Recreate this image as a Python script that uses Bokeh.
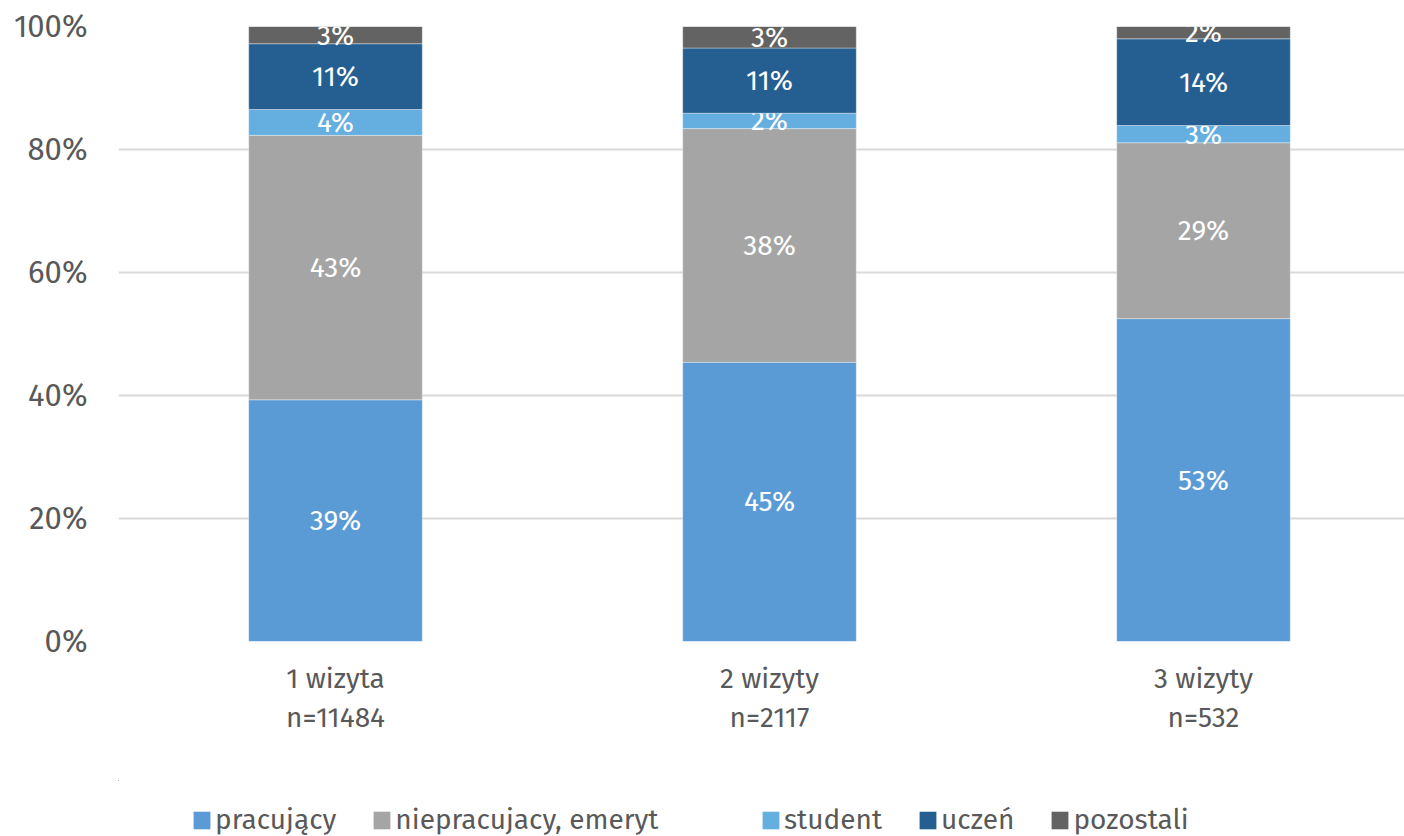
from bokeh.plotting import figure
from bokeh.layouts import column
from bokeh.models import (Range1d, FixedTicker, PrintfTickFormatter, Legend, LegendItem,
                          ColumnDataSource)
from bokeh.core.properties import value
from bokeh.embed import file_html
from bokeh.resources import INLINE

categories = ["1 wizyta\nn=11484", "2 wizyty\nn=2117", "3 wizyty\nn=532"]
series = ["pracujący", "niepracujacy, emeryt", "student", "uczeń", "pozostali"]
pracujacy = [39.3, 45.4, 52.5]
niepracujacy = [43.0, 38.0, 28.6]
student = [4.2, 2.5, 2.8]
uczen = [10.7, 10.6, 14.1]
pozostali = [2.8, 3.5, 2.0]
labels = [["39%", "45%", "53%"], ["43%", "38%", "29%"], ["4%", "2%", "3%"],
          ["11%", "11%", "14%"], ["3%", "3%", "2%"]]
colors = ["#5B9BD5", "#A5A5A5", "#65AEE0", "#255E91", "#636363"]
yticks = [0, 20, 40, 60, 80, 100]

FONT = "Fira Sans, Open Sans"
values = [pracujacy, niepracujacy, student, uczen, pozostali]
xs = [i + 0.5 for i in range(len(categories))]

MAIN_H = 780
p = figure(width=1404, height=MAIN_H, output_backend="svg", toolbar_location=None,
           x_range=Range1d(0, 1286 / 434), y_range=Range1d(0, 100),
           min_border_left=118, min_border_right=0, min_border_top=26,
           min_border_bottom=MAIN_H - 641)
p.outline_line_color = None
p.background_fill_color = "white"
p.border_fill_color = "white"

# legend strip (its swatch renderers share the bar data but lie far outside its view)
lg = figure(width=1404, height=836 - MAIN_H, output_backend="svg", toolbar_location=None,
            x_range=Range1d(100, 101), y_range=Range1d(-200, -100),
            x_axis_location=None, y_axis_location=None,
            min_border_left=0, min_border_right=0, min_border_top=0, min_border_bottom=0)
lg.outline_line_color = None
lg.grid.visible = False
lg.border_fill_color = "white"
lg.background_fill_color = "white"

bottoms = [0.0] * len(categories)
items = []
for name, vals, col, labs in zip(series, values, colors, labels):
    tops = [b + v for b, v in zip(bottoms, vals)]
    mids = [(b + t) / 2 for b, t in zip(bottoms, tops)]
    src = ColumnDataSource(dict(x=xs, bottom=bottoms, top=tops, mid=mids, lab=labs))
    p.vbar(x="x", bottom="bottom", top="top", width=0.4, source=src,
           fill_color=col, line_color="white", line_width=0.6, line_alpha=0.6)
    p.text(x="x", y="mid", text="lab", source=src, text_color="white",
           text_font=value(FONT), text_font_size="28px", text_align="center",
           text_baseline="middle")
    r = lg.vbar(x="x", bottom="bottom", top="top", width=0.4, source=src,
                fill_color=col, line_color=None)
    items.append(LegendItem(label=name, renderers=[r]))
    bottoms = tops

p.xgrid.grid_line_color = None
p.ygrid.grid_line_color = "#D9D9D9"
p.ygrid.grid_line_width = 2
p.ygrid.ticker = FixedTicker(ticks=yticks)

p.yaxis.ticker = FixedTicker(ticks=yticks)
p.yaxis.formatter = PrintfTickFormatter(format="%d%%")
p.yaxis.axis_line_color = None
p.yaxis.major_tick_line_color = None
p.yaxis.minor_tick_line_color = None
p.yaxis.major_label_text_font = FONT
p.yaxis.major_label_text_font_size = "31px"
p.yaxis.major_label_text_color = "#595959"
p.yaxis.major_label_standoff = 25

p.xaxis.ticker = FixedTicker(ticks=xs)
p.xaxis.major_label_overrides = {x: c for x, c in zip(xs, categories)}
p.xaxis.axis_line_color = None
p.xaxis.major_tick_line_color = None
p.xaxis.minor_tick_line_color = None
p.xaxis.major_label_text_font = FONT
p.xaxis.major_label_text_font_size = "28px"
p.xaxis.major_label_text_color = "#595959"
p.xaxis.major_label_standoff = 14

common = dict(orientation="horizontal", glyph_width=21, glyph_height=22,
              label_standoff=3, spacing=35, padding=0, margin=0,
              border_line_color=None, background_fill_alpha=0,
              label_text_font=FONT, label_text_font_size="28px",
              label_text_color="#595959")
# legend strip frame is aligned with the chart frame (starts at x=118)
lg.add_layout(Legend(items=items[:2], location=(73, 0), **common), "center")
lg.add_layout(Legend(items=items[2:], location=(642, 0), **common), "center")

layout = column(p, lg, spacing=0)
open("out.html", "w").write(file_html(layout, INLINE))
